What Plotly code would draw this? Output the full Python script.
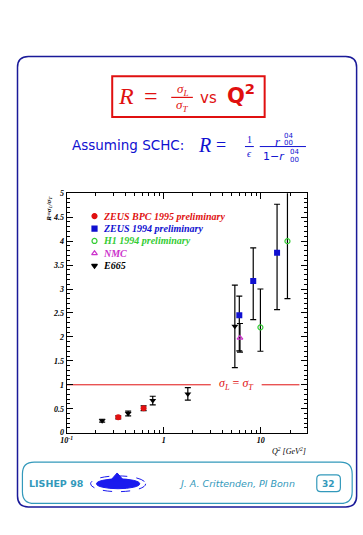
import plotly.graph_objects as go

W, H = 363, 535

# ---------------- data ----------------
bpc_q2 = [0.34, 0.62]
bpc_r = [0.32, 0.51]
bpc_err = [0.03, 0.05]

z94_q2 = [6.0, 8.35, 14.7]
z94_r = [2.45, 3.17, 3.76]
z94_err_up = [0.40, 0.69, 1.01]
z94_err_dn = [0.74, 0.81, 1.19]

h1_q2 = [9.9, 18.8]
h1_r = [2.20, 4.00]
h1_err_up = [0.80, 1.40]
h1_err_dn = [0.50, 1.20]

nmc_q2 = [6.1]
nmc_r = [1.98]
nmc_err = [0.30]

e665_q2 = [0.232, 0.43, 0.77, 1.77, 5.4]
e665_r = [0.25, 0.40, 0.67, 0.81, 2.22]
e665_err = [0.03, 0.05, 0.09, 0.13, 0.86]

ref_x1 = [0.1, 3.05]
ref_x2 = [10.2, 25.0]
ref_y = [1, 1]

xtick_vals = [0.1, 1, 10]
xtick_text = ["10<sup>-1</sup>", "1", "10"]
xminor_vals = [0.2, 0.3, 0.4, 0.5, 0.6, 0.7, 0.8, 0.9, 2, 3, 4, 5, 6, 7, 8, 9, 20]
ytick_vals = [0, 0.5, 1, 1.5, 2, 2.5, 3, 3.5, 4, 4.5, 5]
ytick_text = ["0", "0.5", "1", "1.5", "2", "2.5", "3", "3.5", "4", "4.5", "5"]

RED = "#e01010"
BLUE = "#1010d0"
GREEN = "#33cc33"
MAG = "#cc33cc"
TEAL = "#3399bb"
NAVY = "#1a1a99"


def px(x):
    return x / W


def py(y):
    return 1 - y / H


def rrect(x0, y0, x1, y1, r):
    pts = [
        f"M {px(x0 + r)} {py(y0)}",
        f"L {px(x1 - r)} {py(y0)}",
        f"Q {px(x1)} {py(y0)} {px(x1)} {py(y0 + r)}",
        f"L {px(x1)} {py(y1 - r)}",
        f"Q {px(x1)} {py(y1)} {px(x1 - r)} {py(y1)}",
        f"L {px(x0 + r)} {py(y1)}",
        f"Q {px(x0)} {py(y1)} {px(x0)} {py(y1 - r)}",
        f"L {px(x0)} {py(y0 + r)}",
        f"Q {px(x0)} {py(y0)} {px(x0 + r)} {py(y0)}",
        "Z",
    ]
    return " ".join(pts)


fig = go.Figure()

eb = dict(color="black", thickness=1.2, width=3)

fig.add_trace(go.Scatter(x=ref_x1, y=ref_y, mode="lines", line=dict(color=RED, width=1), showlegend=False))
fig.add_trace(go.Scatter(x=ref_x2, y=ref_y, mode="lines", line=dict(color=RED, width=1), showlegend=False))

fig.add_trace(go.Scatter(x=e665_q2, y=e665_r, mode="markers",
                         marker=dict(symbol="triangle-down", size=6, color="black"),
                         error_y=dict(type="data", array=e665_err, **eb), showlegend=False))
fig.add_trace(go.Scatter(x=bpc_q2, y=bpc_r, mode="markers",
                         marker=dict(symbol="circle", size=6, color=RED),
                         error_y=dict(type="data", array=bpc_err, **eb), showlegend=False))
fig.add_trace(go.Scatter(x=z94_q2, y=z94_r, mode="markers",
                         marker=dict(symbol="square", size=6, color=BLUE),
                         error_y=dict(type="data", array=z94_err_up, arrayminus=z94_err_dn, **eb),
                         showlegend=False))
fig.add_trace(go.Scatter(x=h1_q2, y=h1_r, mode="markers",
                         marker=dict(symbol="circle-open", size=5, color=GREEN, line=dict(width=1.2)),
                         error_y=dict(type="data", array=h1_err_up, arrayminus=h1_err_dn, **eb),
                         showlegend=False))
fig.add_trace(go.Scatter(x=nmc_q2, y=nmc_r, mode="markers",
                         marker=dict(symbol="triangle-up-open", size=5, color=MAG, line=dict(width=1.2)),
                         error_y=dict(type="data", array=nmc_err, **eb), showlegend=False))

# ---------------- layout ----------------
xd = [px(61.7), px(306)]
yd = [py(436), py(192.5)]

tickfont = dict(family="Liberation Serif", size=8, color="black", style="italic", weight="bold")

fig.update_layout(
    width=W, height=H, margin=dict(l=0, r=0, t=0, b=0),
    paper_bgcolor="white", plot_bgcolor="rgba(0,0,0,0)", showlegend=False,
    xaxis=dict(type="log", domain=xd, range=[-1, 1.475], showgrid=False, zeroline=False,
               showline=True, linecolor="black", linewidth=1, mirror="ticks",
               ticks="inside", ticklen=6, tickcolor="black", tickwidth=1,
               tickvals=xtick_vals, ticktext=xtick_text, tickfont=tickfont,
               minor=dict(ticks="inside", ticklen=3, tickcolor="black", showgrid=False,
                          tickmode="array", tickvals=xminor_vals)),
    yaxis=dict(domain=yd, range=[0, 5], showgrid=False, zeroline=False,
               showline=True, linecolor="black", linewidth=1, mirror="ticks",
               ticks="inside", ticklen=6, tickcolor="black", tickwidth=1,
               tickvals=ytick_vals, ticktext=ytick_text, tickfont=tickfont,
               minor=dict(ticks="inside", ticklen=3, dtick=0.1, tickcolor="black", showgrid=False)),
)

shapes = [
    dict(type="path", xref="paper", yref="paper", path=rrect(11.7, 53.3, 356.5, 511.5, 11),
         line=dict(color=NAVY, width=1.5)),
    dict(type="path", xref="paper", yref="paper", path=rrect(16.7, 466, 352, 508, 12),
         line=dict(color=TEAL, width=1.2)),
    dict(type="path", xref="paper", yref="paper", path=rrect(316, 479, 340, 496, 4),
         line=dict(color=TEAL, width=1.2)),
    dict(type="rect", xref="paper", yref="paper", x0=px(108), x1=px(263), y0=py(73.5), y1=py(115),
         line=dict(color=RED, width=2)),
    # title fraction bar
    dict(type="line", xref="paper", yref="paper", x0=px(168), x1=px(190), y0=py(95), y1=py(95),
         line=dict(color=RED, width=1.2)),
    # subtitle fraction bars
    dict(type="line", xref="paper", yref="paper", x0=px(243), x1=px(252), y0=py(145), y1=py(145),
         line=dict(color=BLUE, width=1)),
    dict(type="line", xref="paper", yref="paper", x0=px(258), x1=px(305), y0=py(145), y1=py(145),
         line=dict(color=BLUE, width=1)),
    # logo
    dict(type="circle", xref="paper", yref="paper", x0=px(86), x1=px(142), y0=py(480), y1=py(496),
         line=dict(color="#1a1aee", width=1, dash="dash")),
    dict(type="circle", xref="paper", yref="paper", x0=px(92), x1=px(136), y0=py(483), y1=py(493),
         fillcolor="#1a1aee", line=dict(color="#1a1aee", width=1)),
    dict(type="path", xref="paper", yref="paper",
         path=f"M {px(106)} {py(485)} L {px(113)} {py(477)} L {px(120)} {py(485)} Z",
         fillcolor="#1a1aee", line=dict(color="#1a1aee", width=1)),
]
fig.update_layout(shapes=shapes)

ann = []


def A(x, y, text, size, color, family="Liberation Serif", xanchor="center", angle=0, **kw):
    ann.append(dict(xref="paper", yref="paper", x=px(x), y=py(y), text=text, showarrow=False,
                    xanchor=xanchor, yanchor="middle", textangle=angle, borderpad=0,
                    font=dict(family=family, size=size, color=color, **kw)))


# Title
A(122, 94, "<i>R</i>", 24, RED)
A(147, 94, "=", 24, RED)
A(179, 87, "<i>σ<sub>L</sub></i>", 13, RED)
A(179, 103, "<i>σ<sub>T</sub></i>", 13, RED)
A(206, 96, "vs", 15, RED, family="DejaVu Sans")
A(239, 92, "<b>Q<sup>2</sup></b>", 21, RED, family="DejaVu Sans")

# Subtitle
A(66, 143, "Assuming SCHC:", 13.5, BLUE, family="DejaVu Sans", xanchor="left")
A(202, 143, "<i>R</i>", 20, BLUE)
A(219, 143, "=", 18, BLUE)
A(247.5, 138, "1", 10, BLUE)
A(247.5, 152, "<i>ϵ</i>", 10, BLUE)
A(277, 140, "<i>r</i>", 13, BLUE)
A(287, 134, "04", 7, BLUE, family="DejaVu Sans")
A(287, 141.5, "00", 7, BLUE, family="DejaVu Sans")
A(273, 155, "1−<i>r</i>", 11, BLUE, family="DejaVu Sans")
A(293, 151, "04", 7, BLUE, family="DejaVu Sans")
A(293, 158.5, "00", 7, BLUE, family="DejaVu Sans")

# Legend
leg_text = ["ZEUS BPC 1995 preliminary", "ZEUS 1994 preliminary", "H1 1994 preliminary", "NMC", "E665"]
leg_col = [RED, BLUE, GREEN, MAG, "black"]
leg_sym = ["circle", "square", "circle-open", "triangle-up-open", "triangle-down"]
leg_y = [215.7, 228.4, 241.0, 253.6, 266.2]
for txt, col, yy in zip(leg_text, leg_col, leg_y):
    A(98, yy, f"<b><i>{txt}</i></b>", 10, col, xanchor="left")

fig.add_trace(go.Scatter(x=[px(90)] * 5, y=[py(v) for v in leg_y], xaxis="x2", yaxis="y2", mode="markers",
                         marker=dict(symbol=leg_sym, color=leg_col, size=5,
                                     line=dict(width=1.2, color=leg_col)),
                         showlegend=False, hoverinfo="skip"))
fig.update_layout(xaxis2=dict(domain=[0, 1], range=[0, 1], visible=False, anchor="y2"),
                  yaxis2=dict(domain=[0, 1], range=[0, 1], visible=False, anchor="x2"))

# Reference label
A(234, 387, "<i>σ<sub>L</sub></i> = <i>σ<sub>T</sub></i>", 12, RED)

# Axis titles
A(43, 208, "<b><i>R=σ<sub>L</sub>/σ<sub>T</sub></i></b>", 7, "black", angle=-90)
A(288, 455, "<i>Q<sup>2</sup> [GeV<sup>2</sup>]</i>", 8, "black")

# Footer
A(22, 488, "<b>LISHEP 98</b>", 9.5, TEAL, family="DejaVu Sans", xanchor="left")
A(235, 488, "<i>J. A. Crittenden, PI Bonn</i>", 9.5, TEAL, family="DejaVu Sans")
A(328, 488, "<b>32</b>", 9, TEAL, family="DejaVu Sans")

fig.update_layout(annotations=ann)

fig.write_html("out.html")
